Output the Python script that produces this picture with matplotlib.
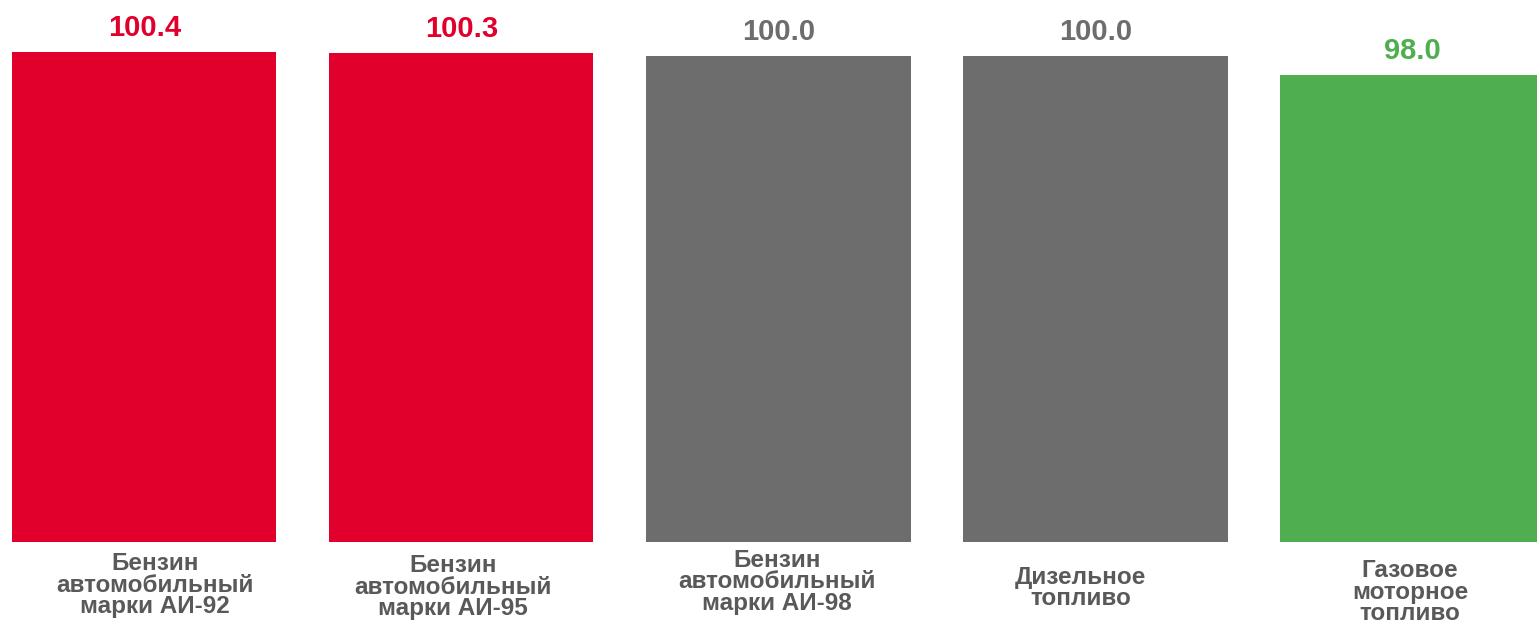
import matplotlib

matplotlib.use("Agg")
import matplotlib.pyplot as plt

categories = [
    "Бензин\nавтомобильный\nмарки АИ-92",
    "Бензин\nавтомобильный\nмарки АИ-95",
    "Бензин\nавтомобильный\nмарки АИ-98",
    "Дизельное\nтопливо",
    "Газовое\nмоторное\nтопливо",
]
values = [100.4, 100.3, 100.0, 100.0, 98.0]
value_labels = ["100.4", "100.3", "100.0", "100.0", "98.0"]

RED = "#E0002B"
GRAY = "#6D6D6D"
GREEN = "#4FAE4F"
bar_colors = [RED, RED, GRAY, GRAY, GREEN]
text_colors = [RED, RED, GRAY, GRAY, GREEN]
# category labels are not exactly centred under the bars in the original
label_dx_px = [10.5, -8.5, -1, -14.5, -2.5]
label_y_px = [585, 587, 582, 588, 592]

W, H = 1537, 625
fig = plt.figure(figsize=(W / 100, H / 100), dpi=100)
base_px = 541.7
ax = fig.add_axes([0, (H - base_px) / H, 1, base_px / H])

x = list(range(len(values)))
ax.bar(x, values, width=0.834, color=bar_colors, bottom=0)
ax.set_xlim(-0.455, 4.393)
ax.set_ylim(48.87, 105.89)
ax.axis("off")

for xi, v, lab, c in zip(x, values, value_labels, text_colors):
    ax.annotate(
        lab,
        xy=(xi, v),
        xytext=(0, 11.5),
        textcoords="offset points",
        ha="center",
        va="baseline",
        fontsize=21,
        fontweight="bold",
        family="Liberation Sans",
        color=c,
    )

for xi, cat, dx, ypx in zip(x, categories, label_dx_px, label_y_px):
    xf = (ax.transData.transform((xi, 0))[0] + dx) / W
    fig.text(
        xf,
        1 - ypx / H,
        cat,
        ha="center",
        va="center",
        fontsize=17.5,
        fontweight="bold",
        family="Liberation Sans",
        color="#595959",
        linespacing=0.9,
    )

fig.savefig("out.png", dpi=100)
